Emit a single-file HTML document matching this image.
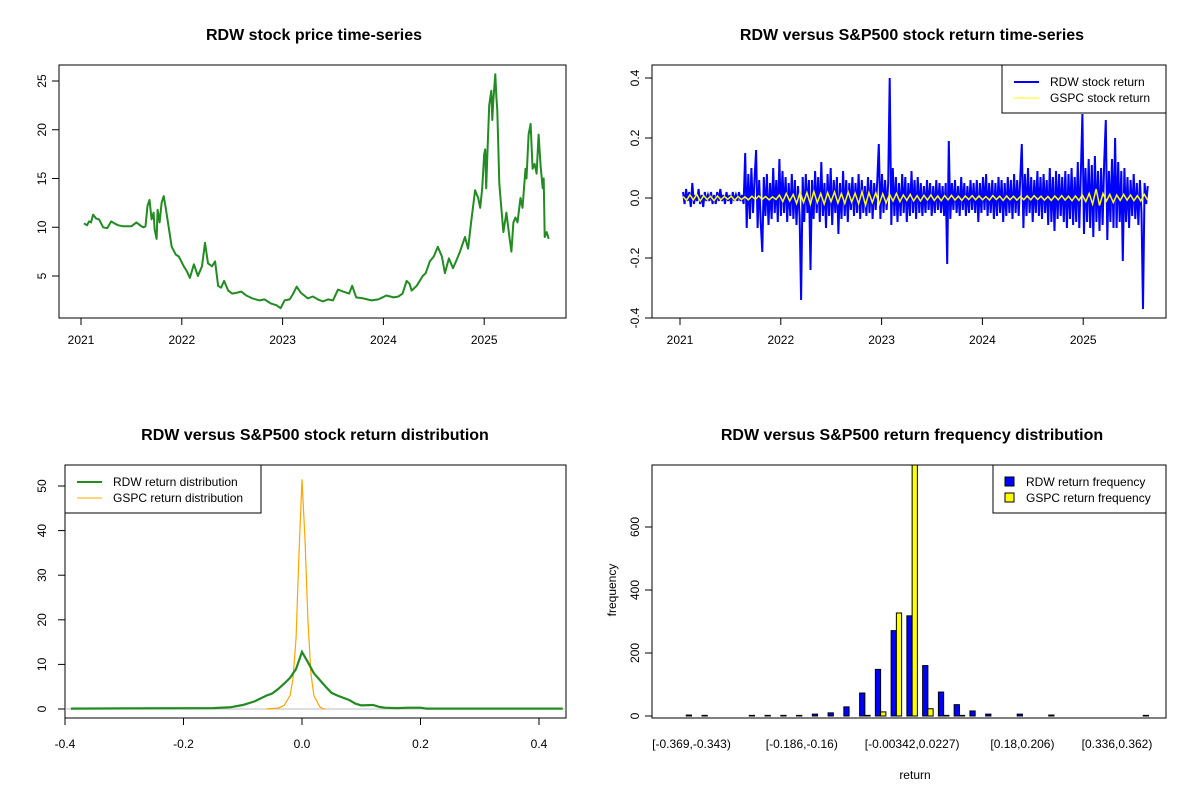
<!DOCTYPE html>
<html><head><meta charset="utf-8"><title>RDW charts</title>
<style>
html,body{margin:0;padding:0;background:#fff;}
svg{display:block;font-family:"Liberation Sans",Arial,sans-serif;}
</style></head>
<body>
<svg id="chart" width="1200" height="800" viewBox="0 0 1200 800" xmlns="http://www.w3.org/2000/svg">
<defs>
<clipPath id="c1"><rect x="59" y="65" width="507" height="253"/></clipPath>
<clipPath id="c2"><rect x="652" y="65" width="514" height="253"/></clipPath>
<clipPath id="c3"><rect x="65" y="465" width="501" height="253"/></clipPath>
<clipPath id="c4"><rect x="652" y="465" width="514" height="253"/></clipPath>
</defs>
<rect x="0" y="0" width="1200" height="800" fill="#fff"/>
<text x="314" y="40" font-size="16" font-weight="bold" text-anchor="middle">RDW stock price time-series</text>
<text x="912" y="40" font-size="16" font-weight="bold" text-anchor="middle">RDW versus S&amp;P500 stock return time-series</text>
<text x="315" y="440" font-size="16" font-weight="bold" text-anchor="middle">RDW versus S&amp;P500 stock return distribution</text>
<text x="912" y="440" font-size="16" font-weight="bold" text-anchor="middle">RDW versus S&amp;P500 return frequency distribution</text>
<g id="g1"></g>
<g id="g2"></g>
<g id="g3"></g>
<g id="g4"></g>
</svg>
<script>
// ---- Panel 1 data: price (year fraction, price)
const priceYears = [2021.03,2021.06,2021.08,2021.1,2021.12,2021.15,2021.18,2021.22,2021.26,2021.3,2021.33,2021.37,2021.42,2021.5,2021.55,2021.6,2021.62,2021.64,2021.66,2021.68,2021.7,2021.72,2021.73,2021.75,2021.76,2021.78,2021.8,2021.82,2021.84,2021.87,2021.9,2021.94,2021.97,2022.02,2022.05,2022.08,2022.12,2022.16,2022.2,2022.23,2022.26,2022.3,2022.33,2022.36,2022.39,2022.42,2022.46,2022.5,2022.55,2022.59,2022.64,2022.7,2022.77,2022.82,2022.88,2022.94,2022.98,2023.02,2023.07,2023.1,2023.14,2023.18,2023.25,2023.3,2023.35,2023.4,2023.45,2023.5,2023.55,2023.6,2023.66,2023.69,2023.73,2023.8,2023.88,2023.95,2024.03,2024.1,2024.15,2024.19,2024.23,2024.26,2024.28,2024.33,2024.39,2024.42,2024.46,2024.5,2024.54,2024.58,2024.61,2024.65,2024.69,2024.72,2024.76,2024.81,2024.84,2024.87,2024.91,2024.94,2024.96,2024.98,2025.0,2025.01,2025.02,2025.03,2025.05,2025.07,2025.08,2025.09,2025.11,2025.12,2025.13,2025.15,2025.17,2025.19,2025.22,2025.25,2025.27,2025.29,2025.31,2025.33,2025.36,2025.38,2025.41,2025.42,2025.44,2025.46,2025.48,2025.5,2025.52,2025.54,2025.56,2025.58,2025.59,2025.6,2025.62,2025.64];
const priceValues = [10.4,10.2,10.6,10.5,11.3,10.9,10.8,10.0,9.9,10.6,10.4,10.2,10.1,10.1,10.5,10.1,10.0,10.1,12.2,12.8,10.8,11.5,9.8,8.8,11.8,10.5,12.5,13.2,12.0,10.0,8.0,7.2,7.0,6.0,5.5,4.8,6.2,5.0,6.0,8.4,6.3,6.0,6.5,4.0,3.8,4.5,3.5,3.2,3.3,3.4,3.0,2.7,2.5,2.6,2.2,2.0,1.7,2.5,2.6,3.1,3.9,3.3,2.7,2.9,2.6,2.4,2.6,2.5,3.6,3.4,3.2,4.0,2.8,2.7,2.5,2.6,3.0,2.8,2.9,3.2,4.5,4.2,3.5,4.0,5.0,5.3,6.5,7.0,8.0,7.0,5.3,6.8,5.8,6.5,7.5,9.0,7.8,10.5,13.8,13.0,12.0,14.0,17.5,18.0,14.0,17.0,22.5,24.0,21.0,23.0,25.7,23.5,22.0,14.5,12.0,9.5,11.5,9.0,7.5,10.5,11.0,10.5,13.0,12.0,16.0,15.0,19.5,20.6,16.0,16.5,15.5,19.5,16.3,14.0,15.0,9.0,9.5,8.8];
const priceTicks = [2021,2022,2023,2024,2025];
const priceYTicks = [5,10,15,20,25];

// ---- Panel 2 data: returns
const rdwReturns = [0.02,-0.02,0.03,-0.01,0.02,-0.03,0.05,-0.02,0.01,-0.01,0.03,-0.02,0.01,-0.03,0.02,-0.01,0.01,-0.01,0.02,-0.02,
0.01,-0.02,0.02,-0.01,0.03,-0.01,0.01,-0.02,0.02,-0.01,0.01,-0.02,0.02,-0.01,0.01,-0.01,0.02,-0.01,0.01,-0.02,
0.15,-0.10,0.08,-0.07,0.10,-0.05,0.06,0.16,-0.10,0.06,-0.08,-0.18,0.07,-0.06,0.08,-0.09,0.05,-0.07,0.10,-0.05,
0.06,-0.08,0.13,-0.06,0.09,-0.05,0.07,-0.08,0.05,-0.06,0.08,-0.07,0.06,-0.09,0.04,-0.06,-0.34,0.07,-0.08,0.08,
-0.05,0.06,-0.24,0.06,-0.07,0.09,-0.05,0.07,-0.08,0.12,-0.06,0.05,-0.10,0.08,-0.06,0.10,-0.09,0.06,-0.05,0.07,
-0.12,0.05,-0.07,0.09,-0.06,0.06,-0.08,0.05,-0.04,0.07,-0.06,0.05,-0.05,0.08,-0.07,0.06,-0.05,0.04,-0.06,0.07,
-0.05,0.06,-0.07,0.05,-0.04,0.06,0.18,-0.07,0.08,-0.05,0.06,-0.04,0.05,0.40,-0.09,0.10,-0.06,0.07,-0.08,0.05,
-0.06,0.08,-0.05,0.07,-0.08,0.05,-0.06,0.09,-0.05,0.06,-0.07,0.07,-0.05,0.05,-0.06,0.04,-0.05,0.06,-0.04,0.05,
-0.06,0.04,-0.05,0.06,-0.04,0.05,-0.05,0.04,-0.06,0.05,-0.22,0.19,-0.07,0.05,-0.04,0.06,-0.05,0.04,-0.06,0.07,
-0.04,0.05,-0.06,0.04,-0.05,0.06,-0.04,0.05,-0.05,0.06,-0.08,0.05,-0.05,0.07,-0.04,0.08,-0.06,0.05,-0.05,0.06,
-0.07,0.05,-0.06,0.07,-0.05,0.06,-0.08,0.05,-0.06,0.07,-0.05,0.06,-0.07,0.08,-0.05,0.06,-0.06,0.07,0.18,-0.10,
0.08,-0.06,0.10,-0.05,0.07,-0.08,0.06,-0.05,0.09,-0.06,0.07,-0.07,0.08,-0.05,0.06,-0.09,0.10,-0.08,0.07,-0.11,
0.09,-0.07,0.08,-0.06,0.07,-0.08,0.09,-0.10,0.08,-0.07,0.10,-0.09,0.07,-0.08,0.12,-0.10,0.09,0.28,-0.12,0.10,
-0.08,0.13,-0.10,0.11,-0.13,0.14,-0.08,0.09,-0.11,0.10,-0.09,0.12,0.26,-0.14,0.09,-0.08,0.13,-0.10,0.20,-0.10,
0.12,-0.08,0.09,-0.21,0.10,-0.08,0.07,-0.10,0.06,-0.06,0.08,-0.07,0.05,-0.09,0.06,-0.05,-0.37,0.05,-0.02,0.04];
const gspcReturns = [0.005,-0.008,0.010,-0.006,0.012,-0.010,0.008,-0.005,0.006,-0.009,0.007,-0.006,0.005,-0.004,0.006,-0.007,0.005,-0.005,0.004,-0.006,
0.006,-0.005,0.007,-0.004,0.005,-0.006,0.004,-0.005,0.010,-0.012,0.015,-0.010,0.012,-0.018,0.020,-0.015,0.018,-0.020,0.022,-0.016,
0.015,-0.020,0.018,-0.012,0.020,-0.017,0.015,-0.018,0.020,-0.014,0.016,-0.019,0.021,-0.024,0.018,-0.015,0.017,-0.020,0.014,-0.016,
0.012,-0.010,0.015,-0.012,0.010,-0.008,0.012,-0.010,0.008,-0.010,0.009,-0.007,0.010,-0.008,0.007,-0.009,0.008,-0.006,0.009,-0.007,
0.006,-0.008,0.007,-0.005,0.008,-0.006,0.007,-0.006,0.005,-0.007,0.008,-0.005,0.006,-0.008,0.007,-0.006,0.006,-0.007,0.005,-0.006,
0.007,-0.006,0.008,-0.005,0.006,-0.007,0.005,-0.008,0.007,-0.006,0.008,-0.007,0.006,-0.009,0.007,-0.008,0.010,-0.012,0.015,-0.020,
0.030,-0.025,0.015,-0.010,0.012,-0.015,0.010,-0.008,0.012,-0.007,0.010,-0.009,0.008,-0.010,0.012,-0.007];
const retStart = 2021.03, retEnd = 2025.64;
const retYTicks = [-0.4,-0.2,0.0,0.2,0.4];
const retYLabels = ["-0.4","-0.2","0.0","0.2","0.4"];

// ---- Panel 3 data: densities
const rdwDensX = [-0.39,-0.15,-0.12,-0.10,-0.08,-0.06,-0.05,-0.04,-0.03,-0.02,-0.01,0.0,0.01,0.02,0.03,0.04,0.05,0.06,0.07,0.08,0.09,0.10,0.12,0.13,0.14,0.16,0.18,0.20,0.21,0.44];
const rdwDensY = [0.1,0.2,0.4,0.9,1.7,3.0,3.5,4.5,5.7,7.0,9.0,12.8,10.5,8.0,6.5,5.0,3.6,3.0,2.5,2.0,1.2,0.8,0.9,0.5,0.3,0.2,0.3,0.3,0.1,0.1];
const gspcDensX = [-0.06,-0.04,-0.03,-0.02,-0.015,-0.01,-0.005,0.0,0.005,0.01,0.015,0.02,0.03,0.035,0.04];
const gspcDensY = [0,0.2,0.8,3,7,16,35,51.5,38,20,8,3,0.5,0.1,0];
const densXTicks = [-0.4,-0.2,0.0,0.2,0.4];
const densXLabels = ["-0.4","-0.2","0.0","0.2","0.4"];
const densYTicks = [0,10,20,30,40,50];

// ---- Panel 4 data: histogram
const rdwFreq = [3,2,0,0,2,2,2,2,6,10,29,73,148,271,318,160,76,36,16,6,0,6,0,3,0,0,0,0,0,2];
const gspcFreq = [0,0,0,0,0,0,0,0,0,0,0,2,13,327,800,23,2,2,0,0,0,0,0,0,0,0,0,0,0,0];
const binLabels = ["[-0.369,-0.343)","[-0.186,-0.16)","[-0.00342,0.0227)","[0.18,0.206)","[0.336,0.362)"];
const binLabelIdx = [0,7,14,21,27];
const freqTicks = [0,200,400,600];

const NS="http://www.w3.org/2000/svg";
function mk(parent,tag,attrs){const e=document.createElementNS(NS,tag);for(const k in attrs)e.setAttribute(k,attrs[k]);parent.appendChild(e);return e;}
function txt(parent,x,y,s,size,anchor,rot){const e=mk(parent,'text',{x:x,y:y,'font-size':size,'text-anchor':anchor||'middle',fill:'#000'});if(rot)e.setAttribute('transform','rotate(-90 '+x+' '+y+')');e.textContent=s;return e;}

// ===== Panel 1 =====
(function(){
const g=document.getElementById('g1');
const X=v=>81+(v-2021)*100.8, Y=v=>276-(v-5)*9.75;
const box=mk(g,'rect',{x:59,y:65,width:507,height:253,fill:'none',stroke:'#000'});


let d=priceYears.map((t,i)=>(i?'L':'M')+X(t).toFixed(1)+' '+Y(priceValues[i]).toFixed(1)).join(' ');
const ln=mk(g,'path',{d:d,fill:'none',stroke:'#228B22','stroke-width':2,'clip-path':'url(#c1)','stroke-linejoin':'round'});


mk(g,'line',{x1:X(2021),x2:X(2025),y1:318,y2:318,stroke:'#000'});
priceTicks.forEach(t=>{mk(g,'line',{x1:X(t),x2:X(t),y1:318,y2:325,stroke:'#000'});const l=txt(g,X(t),344,String(t),12);});
priceYTicks.forEach(t=>{mk(g,'line',{x1:52,x2:59,y1:Y(t),y2:Y(t),stroke:'#000'});const l=txt(g,46,Y(t),String(t),12,'middle',true);});
})();

// ===== Panel 2 =====
(function(){
const g=document.getElementById('g2');
const X=v=>680+(v-2021)*100.8, Y=v=>198-v*300;
const box=mk(g,'rect',{x:652,y:65,width:514,height:253,fill:'none',stroke:'#000'});


const n1=rdwReturns.length;
let d=rdwReturns.map((v,i)=>(i?'L':'M')+X(retStart+(retEnd-retStart)*i/(n1-1)).toFixed(1)+' '+Y(v).toFixed(1)).join(' ');
const l1=mk(g,'path',{d:d,fill:'none',stroke:'#0000FF','stroke-width':2,'clip-path':'url(#c2)'});


const n2=gspcReturns.length;
let d2=gspcReturns.map((v,i)=>(i?'L':'M')+X(retStart+(retEnd-retStart)*i/(n2-1)).toFixed(1)+' '+Y(v).toFixed(1)).join(' ');
const l2=mk(g,'path',{d:d2,fill:'none',stroke:'#FFFF00','stroke-width':1.5,'clip-path':'url(#c2)'});


mk(g,'line',{x1:X(2021),x2:X(2025),y1:318,y2:318,stroke:'#000'});
priceTicks.forEach(t=>{mk(g,'line',{x1:X(t),x2:X(t),y1:318,y2:325,stroke:'#000'});const l=txt(g,X(t),344,String(t),12);});
mk(g,'line',{x1:652,x2:652,y1:Y(-0.4),y2:Y(0.4),stroke:'#000'});
retYTicks.forEach((t,i)=>{mk(g,'line',{x1:645,x2:652,y1:Y(t),y2:Y(t),stroke:'#000'});const l=txt(g,639,Y(t),retYLabels[i],12,'middle',true);});
const lg=mk(g,'g',{});


mk(lg,'rect',{x:1002,y:65,width:164,height:48,fill:'#fff',stroke:'#000'});
mk(lg,'line',{x1:1014,x2:1039,y1:82,y2:82,stroke:'#0000FF','stroke-width':2});
mk(lg,'line',{x1:1014,x2:1039,y1:98,y2:98,stroke:'#FFFF00','stroke-width':1});
txt(lg,1050,86,'RDW stock return',12,'start');
txt(lg,1050,102,'GSPC stock return',12,'start');
})();

// ===== Panel 3 =====
(function(){
const g=document.getElementById('g3');
const X=v=>302+v*592.5, Y=v=>709-v*4.46;
const box=mk(g,'rect',{x:65,y:465,width:501,height:253,fill:'none',stroke:'#000'});


mk(g,'line',{x1:65,x2:566,y1:Y(0),y2:Y(0),stroke:'#BEBEBE'});
let d2=gspcDensX.map((v,i)=>(i?'L':'M')+X(v).toFixed(1)+' '+Y(gspcDensY[i]).toFixed(1)).join(' ');
const l2=mk(g,'path',{d:d2,fill:'none',stroke:'#FFA500','stroke-width':1.2,'clip-path':'url(#c3)'});


let d=rdwDensX.map((v,i)=>(i?'L':'M')+X(v).toFixed(1)+' '+Y(rdwDensY[i]).toFixed(1)).join(' ');
const l1=mk(g,'path',{d:d,fill:'none',stroke:'#228B22','stroke-width':2.2,'clip-path':'url(#c3)'});


mk(g,'line',{x1:X(-0.4),x2:X(0.4),y1:718,y2:718,stroke:'#000'});
densXTicks.forEach((t,i)=>{mk(g,'line',{x1:X(t),x2:X(t),y1:718,y2:725,stroke:'#000'});const l=txt(g,X(t),748,densXLabels[i],12);});
densYTicks.forEach(t=>{mk(g,'line',{x1:58,x2:65,y1:Y(t),y2:Y(t),stroke:'#000'});const l=txt(g,46,Y(t),String(t),12,'middle',true);});
const lg=mk(g,'g',{});


mk(lg,'rect',{x:65,y:465,width:196,height:48,fill:'#fff',stroke:'#000'});
mk(lg,'line',{x1:77,x2:102,y1:482,y2:482,stroke:'#228B22','stroke-width':2});
mk(lg,'line',{x1:77,x2:102,y1:498,y2:498,stroke:'#FFA500','stroke-width':1});
txt(lg,113,486,'RDW return distribution',12,'start');
txt(lg,113,502,'GSPC return distribution',12,'start');
})();

// ===== Panel 4 =====
(function(){
const g=document.getElementById('g4');
const U=u=>681+u*5.253, Y=v=>716-v*0.315;
const bars=mk(g,'g',{'clip-path':'url(#c4)'});
rdwFreq.forEach((v,i)=>{
  const b=mk(bars,'rect',{x:U(3*i+1),y:Y(v),width:5.253,height:Y(0)-Y(v),fill:'#0000FF',stroke:'#000','stroke-width':1});
  
  
  const c=mk(bars,'rect',{x:U(3*i+2),y:Y(gspcFreq[i]),width:5.253,height:Y(0)-Y(gspcFreq[i]),fill:'#FFFF00',stroke:'#000','stroke-width':1});
  
  
});
const box=mk(g,'rect',{x:652,y:465,width:514,height:253,fill:'none',stroke:'#000'});


mk(g,'line',{x1:652,x2:652,y1:Y(0),y2:Y(600),stroke:'#000'});
freqTicks.forEach(t=>{mk(g,'line',{x1:645,x2:652,y1:Y(t),y2:Y(t),stroke:'#000'});const l=txt(g,639,Y(t),String(t),12,'middle',true);});
binLabelIdx.forEach((gi,k)=>{const l=txt(g,U(3*gi+2),748,binLabels[k],12);});
const yt=txt(g,616,590,'frequency',12,'middle',true);


const xt=txt(g,915,779,'return',12);


const lg=mk(g,'g',{});


mk(lg,'rect',{x:993,y:465,width:173,height:48,fill:'#fff',stroke:'#000'});
mk(lg,'rect',{x:1005,y:477,width:9,height:9,fill:'#0000FF',stroke:'#000'});
mk(lg,'rect',{x:1005,y:493,width:9,height:9,fill:'#FFFF00',stroke:'#000'});
txt(lg,1026,486,'RDW return frequency',12,'start');
txt(lg,1026,502,'GSPC return frequency',12,'start');
})();
</script>
</body></html>
